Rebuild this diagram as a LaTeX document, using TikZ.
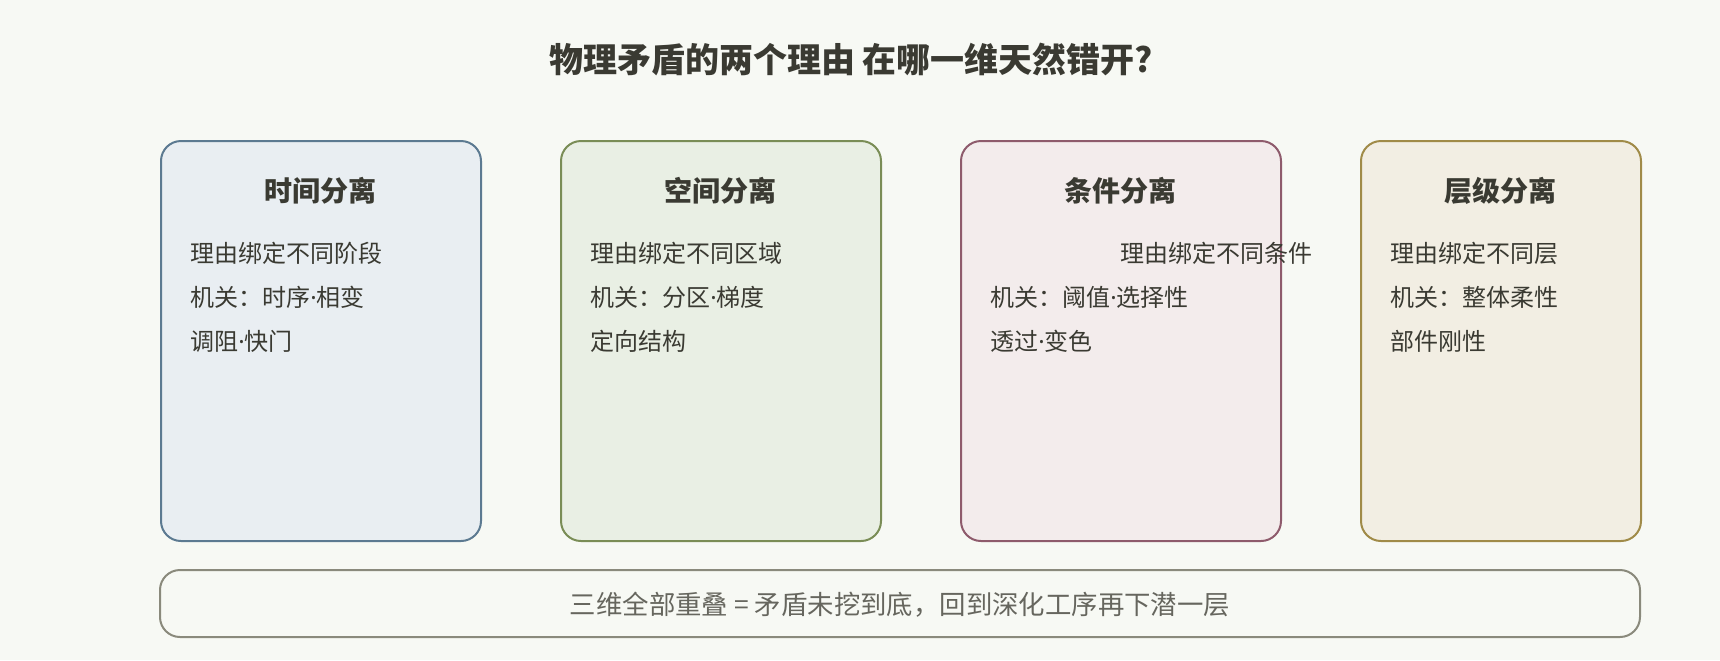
\documentclass[tikz,border=0pt]{standalone}
\usepackage{fontspec}
\setmainfont{Noto Sans CJK SC}
\newfontfamily\latinfont{Noto Sans}
\newcommand{\mdot}{{\latinfont ·}}
\usetikzlibrary{positioning}
\definecolor{bg}{HTML}{F7F9F4}
\definecolor{ink}{HTML}{3A3A32}
\definecolor{grayink}{HTML}{66665E}
\definecolor{timefill}{HTML}{E9EEF2}
\definecolor{timeline}{HTML}{5C7A91}
\definecolor{spacefill}{HTML}{E9EFE4}
\definecolor{spaceline}{HTML}{7A8D56}
\definecolor{condfill}{HTML}{F3ECEC}
\definecolor{condline}{HTML}{8E5B6C}
\definecolor{levelfill}{HTML}{F2EEE3}
\definecolor{levelline}{HTML}{A08B48}
\definecolor{sumline}{HTML}{8A8A7C}
\tikzset{every node/.style={inner sep=0pt, text height=0.88em, text depth=0.12em, text=ink},
  card/.style={draw, line width=1pt, rounded corners=10pt, anchor=north west, minimum height=200pt},
  head/.style={font=\fontsize{14}{16}\selectfont\bfseries},
  reason/.style={anchor=west, font=\fontsize{12}{14}\selectfont}}

\begin{document}
\begin{tikzpicture}[x=0.5pt,y=-0.5pt]
   \fill[bg] (0,0) rectangle (1720,660);
   \useasboundingbox (0,0) rectangle (1720,660);
   \node[font=\fontsize{17}{19}\selectfont\bfseries] (title) at (851,65) {物理矛盾的两个理由 在哪一维天然错开?};
   % time
   \node[card, fill=timefill, draw=timeline, minimum width=160pt] (time) at (160,140) {};
   \node[head] (timehead) at (320,194) {时间分离};
   \node[reason] (time1) at (190,255) {理由绑定不同阶段};
   \node[reason] (time2) at (190,299) {机关：时序\mdot 相变};
   \node[reason] (time3) at (190,343) {调阻\mdot 快门};
   % space
   \node[card, fill=spacefill, draw=spaceline, minimum width=160pt] (space) at (560,140) {};
   \node[head] (spacehead) at (720,194) {空间分离};
   \node[reason] (space1) at (590,255) {理由绑定不同区域};
   \node[reason] (space2) at (590,299) {机关：分区\mdot 梯度};
   \node[reason] (space3) at (590,343) {定向结构};
   % condition
   \node[card, fill=condfill, draw=condline, minimum width=160pt] (cond) at (960,140) {};
   \node[head] (condhead) at (1120,194) {条件分离};
   \node[reason] (cond1) at (1120,255) {理由绑定不同条件};
   \node[reason] (cond2) at (990,299) {机关：阈值\mdot 选择性};
   \node[reason] (cond3) at (990,343) {透过\mdot 变色};
   % level
   \node[card, fill=levelfill, draw=levelline, minimum width=140pt] (level) at (1360,140) {};
   \node[head] (levelhead) at (1500,194) {层级分离};
   \node[reason] (level1) at (1390,255) {理由绑定不同层};
   \node[reason] (level2) at (1390,299) {机关：整体柔性};
   \node[reason] (level3) at (1390,343) {部件刚性};
   % summary
   \node[draw=sumline, fill=bg, line width=1pt, rounded corners=10pt, minimum width=740pt, minimum height=33.5pt,
         text=grayink, font=\fontsize{13.2}{15}\selectfont] (sum) at (900,603.5) {};
   \node[text=grayink, font=\fontsize{13.2}{15}\selectfont] (sumtext) at (900,607) {三维全部重叠 = 矛盾未挖到底，回到深化工序再下潜一层};
\end{tikzpicture}
\end{document}
